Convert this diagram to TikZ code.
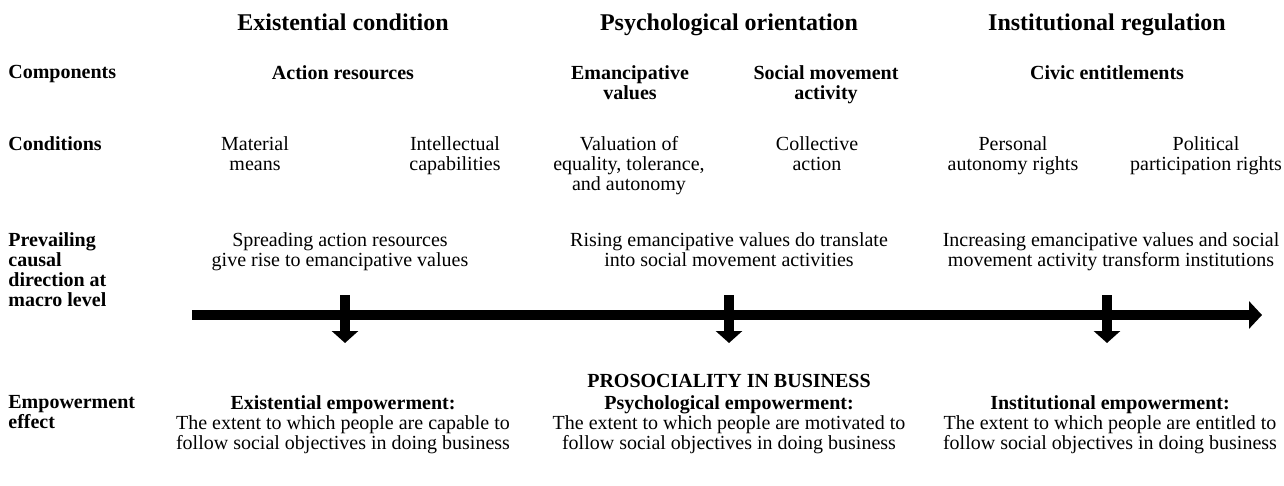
\documentclass[tikz,border=0pt]{standalone}
\usepackage{fontspec}
\setmainfont{Liberation Serif}
\usetikzlibrary{arrows.meta}

\begin{document}
\begin{tikzpicture}[x=0.5pt,y=-0.5pt,
 txt/.style={anchor=north,align=center,inner sep=0pt,font=\fontsize{10}{10}\selectfont},
 bold/.style={txt,font=\fontsize{10}{10}\selectfont\bfseries},
 colhead/.style={txt,font=\fontsize{12}{13}\selectfont\bfseries},
 rowlbl/.style={bold,anchor=north west,align=left},
 fat/.style={line width=5pt,-{Triangle[length=6.5pt,width=13.5pt]}},
 drop/.style={line width=5pt,-{Triangle[length=6pt,width=13pt]}}]
 \useasboundingbox (0,0) rectangle (1284,486);
 \node[colhead] (exist) at (343,13) {Existential condition};
 \node[colhead] (psych) at (729,13) {Psychological orientation};
 \node[colhead] (inst) at (1107,13) {Institutional regulation};
 \node[rowlbl] (comp) at (8,65) {Components};
 \node[bold] (actres) at (343,65) {Action resources};
 \node[bold] (emval) at (630,65) {Emancipative\\values};
 \node[bold] (socmov) at (826,65) {Social movement\\activity};
 \node[bold] (civic) at (1107,65) {Civic entitlements};
 \node[rowlbl] (cond) at (8,136) {Conditions};
 \node[txt] (matmean) at (255,136) {Material\\means};
 \node[txt] (intcap) at (455,136) {Intellectual\\capabilities};
 \node[txt] (valeq) at (629,136) {Valuation of\\equality, tolerance,\\and autonomy};
 \node[txt] (collact) at (817,136) {Collective\\action};
 \node[txt] (persaut) at (1013,136) {Personal\\autonomy rights};
 \node[txt] (polpart) at (1206,136) {Political\\participation rights};
 \node[rowlbl] (prev) at (8,232) {Prevailing\\causal\\direction at\\macro level};
 \node[txt] (spread) at (340,232) {Spreading action resources\\give rise to emancipative values};
 \node[txt] (rising) at (729,232) {Rising emancipative values do translate\\into social movement activities};
 \node[txt] (incr) at (1111,232) {Increasing emancipative values and social\\movement activity transform institutions};
 % causal axis
 \coordinate (axl) at (192,315);
 \coordinate (axr) at (1262,315);
 \draw[fat] (axl) -- (axr);
 \coordinate (d1) at (345,295);
 \coordinate (e1) at (345,343);
 \coordinate (d2) at (729,295);
 \coordinate (e2) at (729,343);
 \coordinate (d3) at (1107,295);
 \coordinate (e3) at (1107,343);
 \draw[drop] (d1) -- (e1);
 \draw[drop] (d2) -- (e2);
 \draw[drop] (d3) -- (e3);
 \node[bold] (prosoc) at (729,374) {PROSOCIALITY IN BUSINESS};
 \node[rowlbl] (emp) at (8,395) {Empowerment\\effect};
 \node[txt] (exemp) at (343,395) {\textbf{Existential empowerment:}\\The extent to which people are capable to\\follow social objectives in doing business};
 \node[txt] (psemp) at (729,395) {\textbf{Psychological empowerment:}\\The extent to which people are motivated to\\follow social objectives in doing business};
 \node[txt] (inemp) at (1110,395) {\textbf{Institutional empowerment:}\\The extent to which people are entitled to\\follow social objectives in doing business};
\end{tikzpicture}
\end{document}
